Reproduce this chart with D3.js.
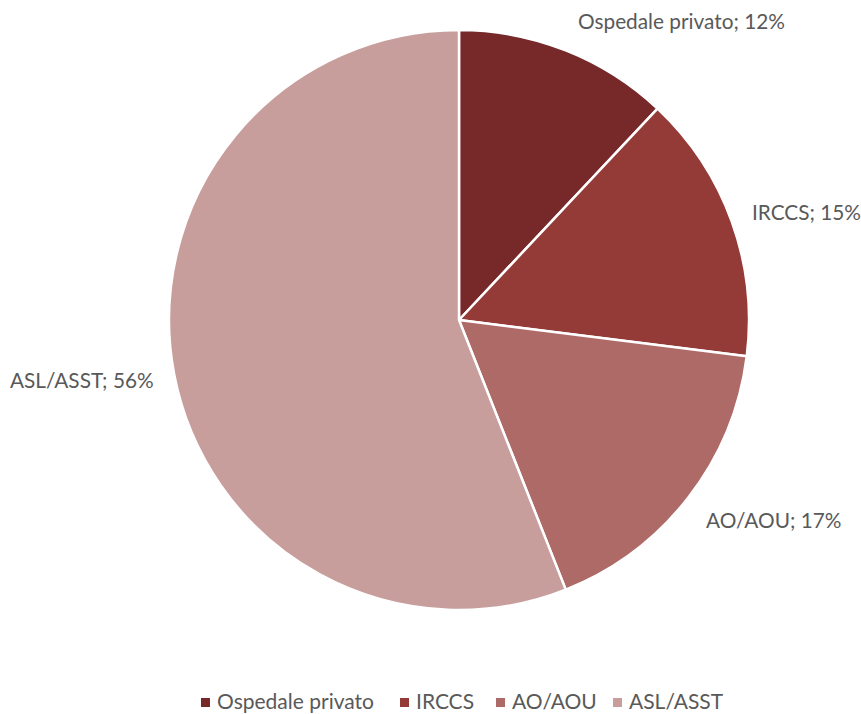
<!DOCTYPE html>
<html><head><meta charset="utf-8">
<script src="https://cdn.jsdelivr.net/npm/d3@7/dist/d3.min.js"></script>
<style>body{margin:0;background:#fff}svg{display:block}</style>
</head><body>
<svg id="c" width="861" height="714"></svg>
<script>
const categories = ["Ospedale privato", "IRCCS", "AO/AOU", "ASL/ASST"];
const values = [12, 15, 17, 56];
const colors = ["#772829", "#943a37", "#ae6a66", "#c89e9d"];
const labelText = ["Ospedale privato; 12%", "IRCCS; 15%", "AO/AOU; 17%", "ASL/ASST; 56%"];

const svg = d3.select("#c");
const font = "Lato, 'Open Sans', sans-serif";
const cx = 459, cy = 320, r = 290;
const data = categories.map((c, i) => ({cat: c, v: values[i], col: colors[i], lab: labelText[i]}));
const pie = d3.pie().value(d => d.v).sort(null);
const arcs = pie(data);
const arc = d3.arc().innerRadius(0).outerRadius(r);
const g = svg.append("g").attr("transform", `translate(${cx},${cy})`);
g.selectAll("path").data(arcs).join("path")
  .attr("d", arc).attr("fill", d => d.data.col)
  .attr("stroke", "#fff").attr("stroke-width", 2.5).attr("stroke-linejoin", "round");

const labPos = [
  {x: 578, y: 29},
  {x: 752, y: 220},
  {x: 706, y: 528},
  {x: 10, y: 388}
];
svg.selectAll("text.lab").data(data).join("text")
  .attr("class", "lab")
  .attr("x", (d, i) => labPos[i].x).attr("y", (d, i) => labPos[i].y)
  .attr("font-family", font).attr("font-size", 20.8).attr("fill", "#595959")
  .text(d => d.lab);

const legX = [201, 400, 496, 613];
const lg = svg.append("g");
const items = lg.selectAll("g").data(data).join("g")
  .attr("transform", (d, i) => `translate(${legX[i]},709)`);
items.append("rect").attr("x", 0).attr("y", -11).attr("width", 9).attr("height", 9).attr("fill", d => d.col);
items.append("text").attr("x", 16).attr("y", 0)
  .attr("font-family", font).attr("font-size", 21).attr("fill", "#595959")
  .text(d => d.cat);
</script>
</body></html>
